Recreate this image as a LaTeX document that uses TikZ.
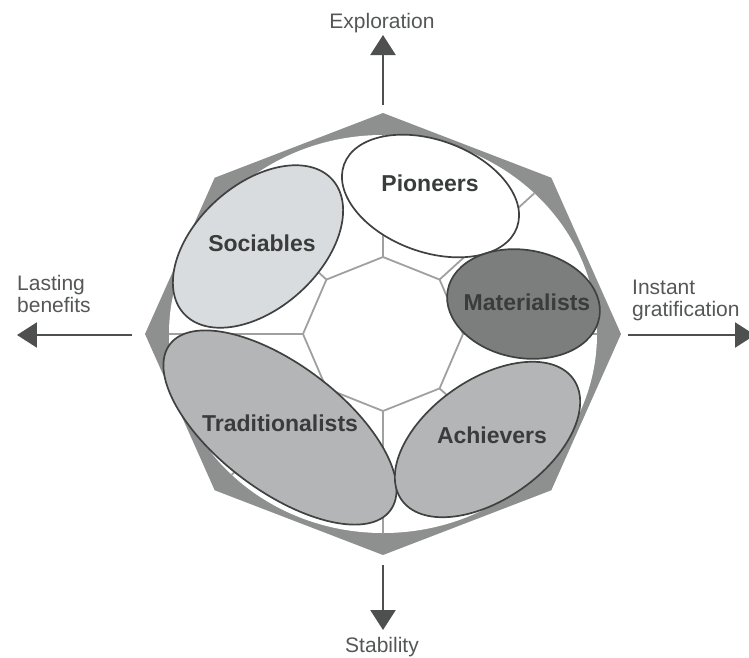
\documentclass[tikz,border=0pt]{standalone}
\usepackage{fontspec}
\setmainfont{Liberation Sans}
\usepackage{tikz}
\usetikzlibrary{arrows.meta,shapes.geometric}

\definecolor{rimgray}{HTML}{8E9090}
\definecolor{webgray}{HTML}{A0A0A0}
\definecolor{linegray}{HTML}{404242}
\definecolor{axisgray}{HTML}{4E5050}
\definecolor{tagtext}{HTML}{555757}
\definecolor{nametext}{HTML}{3A3C3C}
\definecolor{palefill}{HTML}{D9DCDE}
\definecolor{midfill}{HTML}{B3B5B6}
\definecolor{darkfill}{HTML}{7C7E7E}

\begin{document}
\begin{tikzpicture}[x=1pt,y=1pt,
    ring/.style={ellipse,draw=linegray,line width=1.7pt,inner sep=0pt},
    web/.style={draw=webgray,line width=1.8pt},
    axis/.style={draw=axisgray,line width=2.4pt,-{Triangle[length=20pt,width=25pt]}},
    tag/.style={font=\fontsize{21}{22}\selectfont,text=tagtext,align=left,inner sep=0pt},
    group/.style={font=\bfseries\fontsize{23}{26}\selectfont,text=nametext,inner sep=0pt}]
  \useasboundingbox (-383,-323) rectangle (366,334);
  % rim and white field
  \fill[rimgray] (0:238 and 221) \foreach \a in {45,90,...,315} { -- (\a:238 and 221)} -- cycle;
  \fill[white] (0,0) ellipse [x radius=214, y radius=199];
  % centre cell and spokes
  \draw[web] (0:80 and 77) \foreach \a in {45,90,...,315} { -- (\a:80 and 77)} -- cycle;
  \foreach \a in {0,45,...,315}
    \draw[web] (\a:80 and 77) -- (\a:214 and 199);
  % segments
  \node[ring,fill=white,minimum width=184pt,minimum height=112pt,rotate=-20] (pio) at (47.5,138) {};
  \node[ring,fill=palefill,minimum width=200pt,minimum height=124pt,rotate=42] (soc) at (-125,87.5) {};
  \node[ring,fill=darkfill,minimum width=154pt,minimum height=108pt,rotate=-10] (mat) at (140.5,30) {};
  \node[ring,fill=midfill,minimum width=276pt,minimum height=126pt,rotate=-37] (tra) at (-103,-93.5) {};
  \node[ring,fill=midfill,minimum width=210pt,minimum height=120pt,rotate=35] (ach) at (104.5,-105.5) {};
  \node[group] (pioname) at (47,151) {Pioneers};
  \node[group] (socname) at (-121,91) {Sociables};
  \node[group] (matname) at (144,32) {Materialists};
  \node[group] (traname) at (-103,-89) {Traditionalists};
  \node[group] (achname) at (109,-101) {Achievers};
  % axes
  \coordinate (n0) at (0,229);   \coordinate (n1) at (0,299);
  \coordinate (s0) at (0,-231);  \coordinate (s1) at (0,-296);
  \coordinate (w0) at (-251,-1); \coordinate (w1) at (-366,-1);
  \coordinate (e0) at (245,-1);  \coordinate (e1) at (372,-1);
  \draw[axis] (n0) -- (n1);
  \draw[axis] (s0) -- (s1);
  \draw[axis] (w0) -- (w1);
  \draw[axis] (e0) -- (e1);
  \node[tag] (explore) at (-1,311) {Exploration};
  \node[tag] (stable) at (-1,-313) {Stability};
  \node[tag,anchor=west] (lasting) at (-366,40) {Lasting\\benefits};
  \node[tag,anchor=west] (instant) at (249,34) {Instant\\gratification};
\end{tikzpicture}
\end{document}
